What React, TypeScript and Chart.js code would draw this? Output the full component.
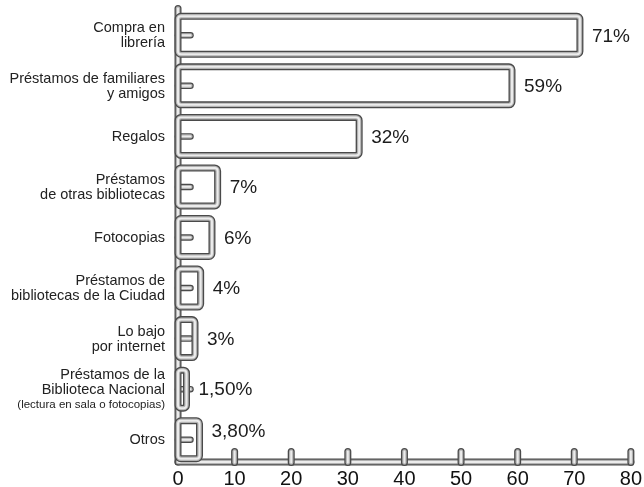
import { useEffect, useRef } from "react";
import { Chart, registerables } from "chart.js";

Chart.register(...registerables);

// Where readers get their books (share of respondents, %)
const categoryLines: string[][] = [
  ["Compra en", "librería"],
  ["Préstamos de familiares", "y amigos"],
  ["Regalos"],
  ["Préstamos", "de otras bibliotecas"],
  ["Fotocopias"],
  ["Préstamos de", "bibliotecas de la Ciudad"],
  ["Lo bajo", "por internet"],
  ["Préstamos de la", "Biblioteca Nacional"],
  ["Otros"],
];
const categoryNotes = ["", "", "", "", "", "", "", "(lectura en sala o fotocopias)", ""];
const shares = [71, 59, 32, 7, 6, 4, 3, 1.5, 3.8];
const shareLabels = ["71%", "59%", "32%", "7%", "6%", "4%", "3%", "1,50%", "3,80%"];
const axisMin = 0;
const axisMax = 80;
const axisStep = 10;

const FONT = "'Liberation Sans', Arial, Helvetica, sans-serif";
const DARK = "#4a4a4a";
const MID = "#b2b2b2";
const LIGHT = "#ececec";
const TEXT = "#1c1c1c";
const PIPE = 7;

type Ctx = CanvasRenderingContext2D;

function roundRectPath(ctx: Ctx, x0: number, y0: number, x1: number, y1: number, r: number) {
  const w = x1 - x0;
  const h = y1 - y0;
  const rr = Math.max(0, Math.min(r, w / 2, h / 2));
  ctx.beginPath();
  ctx.moveTo(x0 + rr, y0);
  ctx.lineTo(x1 - rr, y0);
  ctx.arcTo(x1, y0, x1, y0 + rr, rr);
  ctx.lineTo(x1, y1 - rr);
  ctx.arcTo(x1, y1, x1 - rr, y1, rr);
  ctx.lineTo(x0 + rr, y1);
  ctx.arcTo(x0, y1, x0, y1 - rr, rr);
  ctx.lineTo(x0, y0 + rr);
  ctx.arcTo(x0, y0, x0 + rr, y0, rr);
  ctx.closePath();
}

// Stroke a path three times to give it a rounded, tube-like look
function strokePipe(ctx: Ctx, path: () => void, width: number) {
  const layers: [number, string][] = [
    [width, DARK],
    [width * 0.63, MID],
    [width * 0.28, LIGHT],
  ];
  for (const [w, c] of layers) {
    path();
    ctx.lineWidth = w;
    ctx.strokeStyle = c;
    ctx.stroke();
  }
}

function linePath(ctx: Ctx, x0: number, y0: number, x1: number, y1: number) {
  return () => {
    ctx.beginPath();
    ctx.moveTo(x0, y0);
    ctx.lineTo(x1, y1);
  };
}

const pipePlugin = {
  id: "pipeBars",
  beforeDatasetsDraw(chart: any) {
    const { ctx, chartArea, scales } = chart;
    const xs = scales.x;
    const x0 = xs.getPixelForValue(axisMin);
    const xEnd = xs.getPixelForValue(axisMax);
    const axisY = chartArea.bottom - 3;
    ctx.save();
    ctx.lineCap = "round";
    ctx.lineJoin = "round";
    // vertical axis
    strokePipe(ctx, linePath(ctx, x0, 8.5, x0, axisY), PIPE);
    // horizontal axis
    strokePipe(ctx, linePath(ctx, x0, axisY, xEnd, axisY), PIPE);
    // tick posts
    for (let v = axisMin + axisStep; v <= axisMax; v += axisStep) {
      const x = xs.getPixelForValue(v);
      strokePipe(ctx, linePath(ctx, x, 451.5, x, axisY + 0.5), PIPE);
    }
    ctx.restore();
  },
  afterDatasetsDraw(chart: any) {
    const { ctx, scales } = chart;
    const xs = scales.x;
    const ys = scales.y;
    const meta = chart.getDatasetMeta(0);
    const x0 = xs.getPixelForValue(axisMin);
    ctx.save();
    ctx.lineCap = "round";
    ctx.lineJoin = "round";
    meta.data.forEach((bar: any, i: number) => {
      const { x, y, height } = bar.getProps(["x", "y", "height"], true);
      const top = y - height / 2 + PIPE / 2;
      const bottom = y + height / 2 - PIPE / 2;
      const path = () => roundRectPath(ctx, x0, top, x, bottom, 3);
      path();
      ctx.fillStyle = "#ffffff";
      ctx.fill();
      // small stub on the left of each bar
      strokePipe(ctx, linePath(ctx, x0, y, x0 + 12.5, y), 6.5);
      strokePipe(ctx, path, PIPE);

      // value label
      ctx.font = `19px ${FONT}`;
      ctx.fillStyle = TEXT;
      ctx.textAlign = "left";
      ctx.textBaseline = "middle";
      const lift = i === meta.data.length - 1 ? -9 : 0;
      ctx.fillText(shareLabels[i], x + 12, y + 1 + lift);

      // category label
      const lines = categoryLines[i];
      const note = categoryNotes[i];
      const mainLH = 15;
      const noteLH = 14;
      const total = lines.length * mainLH + (note ? noteLH : 0);
      let cy = y - total / 2;
      ctx.textAlign = "right";
      ctx.fillStyle = "#222";
      ctx.font = `14.5px ${FONT}`;
      for (const line of lines) {
        ctx.fillText(line, 165, cy + mainLH / 2 + 0.5);
        cy += mainLH;
      }
      if (note) {
        ctx.font = `11.5px ${FONT}`;
        ctx.fillText(note, 165, cy + noteLH / 2 + 1);
      }
    });
    ctx.restore();
  },
};

export default function App() {
  const ref = useRef<HTMLCanvasElement | null>(null);

  useEffect(() => {
    if (!ref.current) return;
    const chart = new Chart(ref.current, {
      type: "bar",
      data: {
        labels: categoryLines.map((l) => l.join(" ")),
        datasets: [
          {
            data: shares,
            backgroundColor: "rgba(0,0,0,0)",
            borderWidth: 0,
            barPercentage: 1,
            categoryPercentage: 0.89,
          },
        ],
      },
      options: {
        indexAxis: "y",
        animation: false,
        responsive: false,
        maintainAspectRatio: false,
        layout: { padding: { left: 178, right: 12, top: 10, bottom: 0 } },
        plugins: { legend: { display: false }, tooltip: { enabled: false } },
        scales: {
          x: {
            min: axisMin,
            max: axisMax,
            ticks: {
              stepSize: axisStep,
              font: { size: 20, family: FONT },
              color: "#111",
              padding: 2,
              maxRotation: 0,
            },
            grid: { display: false, drawTicks: false },
            border: { display: false },
            afterFit: (s: any) => {
              s.height = 22;
            },
          },
          y: { display: false },
        },
      },
      plugins: [pipePlugin],
    } as any);
    return () => chart.destroy();
  }, []);

  return (
    <div style={{ position: "absolute", left: 0, top: 0, width: 644, height: 487, background: "#fff" }}>
      <canvas ref={ref} width={644} height={487} style={{ display: "block" }} />
    </div>
  );
}
